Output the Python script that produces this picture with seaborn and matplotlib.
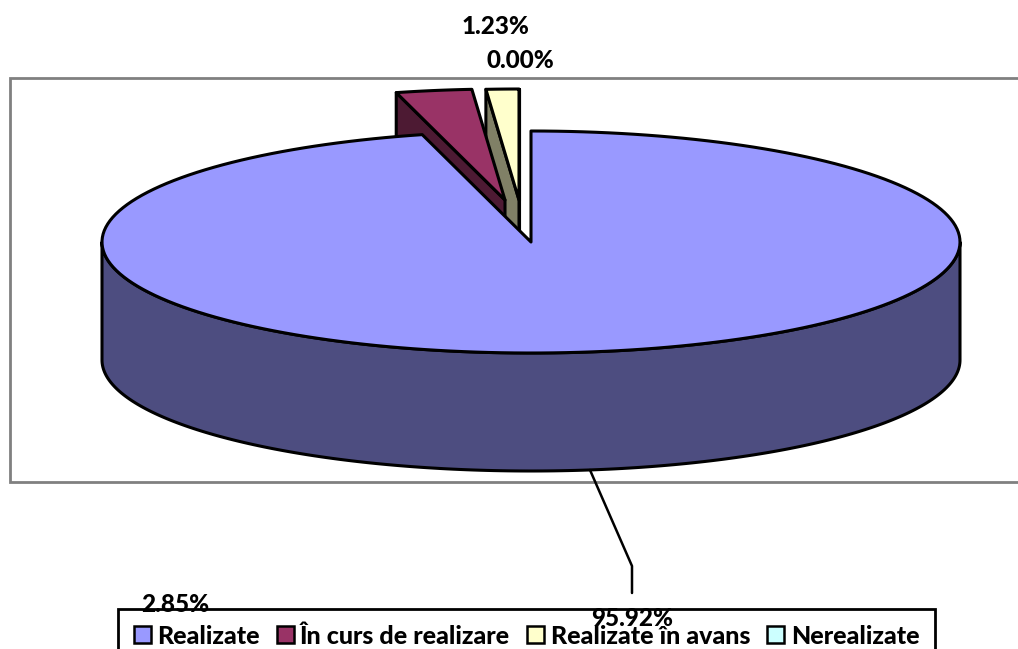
import numpy as np
import seaborn as sns
import matplotlib.pyplot as plt
from matplotlib.patches import Patch, Polygon, Rectangle

# pie data
categories = ["Realizate", "În curs de realizare", "Realizate în avans", "Nerealizate"]
values = [95.92, 2.85, 1.23, 0.00]
value_labels = ["95.92%", "2.85%", "1.23%", "0.00%"]

top_colors = ["#9999FF", "#993366", "#FFFFCC", "#CCFFFF"]
side_colors = ["#4D4D80", "#4D1A33", "#808066", "#668080"]

# where the pie sits on the page (pixels)
CX, CY = 531, 242
RX, RY = 429, 111
DEPTH = 118
explode = [(0, 0), (-26, -42), (-12, -42), (-12, -42)]

sns.set_theme(style="white")
plt.rcParams["font.family"] = ["Lato", "DejaVu Sans"]
plt.rcParams["font.weight"] = "black"
plt.rcParams["text.color"] = "black"


def rim(start, stop, dx=0, dy=0):
    # clockwise from 12 o'clock, angles in degrees
    t = np.radians(np.linspace(start, stop, 200))
    return np.column_stack([CX + dx + RX * np.sin(t), CY + dy - RY * np.cos(t)])


def draw_slice(ax, start, stop, top, side, dx, dy):
    apex = np.array([CX + dx, CY + dy])
    drop = np.array([0, DEPTH])
    edge = rim(start, start, dx, dy)[0]
    # cut face on the left of the slice
    if start > 180:
        face = [apex, edge, edge + drop, apex + drop]
        ax.add_patch(Polygon(face, fc=side, ec="black", lw=2.2, joinstyle="round"))
    # outer wall, only the part turned to the viewer
    lo, hi = max(start, 90), min(stop, 270)
    if lo < hi:
        arc = rim(lo, hi, dx, dy)
        wall = np.vstack([arc, (arc + drop)[::-1]])
        ax.add_patch(Polygon(wall, fc=side, ec="black", lw=2.2, joinstyle="round"))
    ax.add_patch(Polygon(np.vstack([apex, rim(start, stop, dx, dy)]), fc=top, ec="black", lw=2.2,
                         joinstyle="round"))


fig = plt.figure(figsize=(10.18, 6.49), dpi=100)
ax = fig.add_axes([0, 0, 1, 1])
ax.set_xlim(0, 1018)
ax.set_ylim(649, 0)
ax.axis("off")

# plot area frame, runs off the right side
ax.add_patch(Rectangle((10, 78), 1030, 404, fc="white", ec="#808080", lw=2))

angles = np.concatenate([[0], np.cumsum(values) / np.sum(values) * 360])

# back slices first, the big one covers them
for i in [3, 2, 1, 0]:
    draw_slice(ax, angles[i], angles[i + 1], top_colors[i], side_colors[i], *explode[i])

# leader line for the big label
ax.plot([590, 632, 632], [470, 566, 593], color="black", lw=1.8, solid_joinstyle="round")

handles = [Patch(fc=c, ec="black", lw=1.8) for c in top_colors]
# frame is cut by the bottom of the page, same as the original
leg = ax.legend(handles, categories, loc="upper left", bbox_to_anchor=(118, 609),
                bbox_transform=ax.transData, ncol=4, fontsize=18, frameon=True, fancybox=False,
                edgecolor="black", framealpha=1, borderpad=0.62, borderaxespad=0,
                handlelength=0.68, handleheight=0.68, handletextpad=0.26, columnspacing=0.68)
leg.get_frame().set_linewidth(2)

label_pos = [(632, 619), (175, 604), (496, 27), (520, 60)]
for txt, (x, y) in zip(value_labels, label_pos):
    ax.text(x, y, txt, ha="center", va="center", fontsize=17.5, color="black", zorder=10)

fig.savefig("out.png", dpi=100)
